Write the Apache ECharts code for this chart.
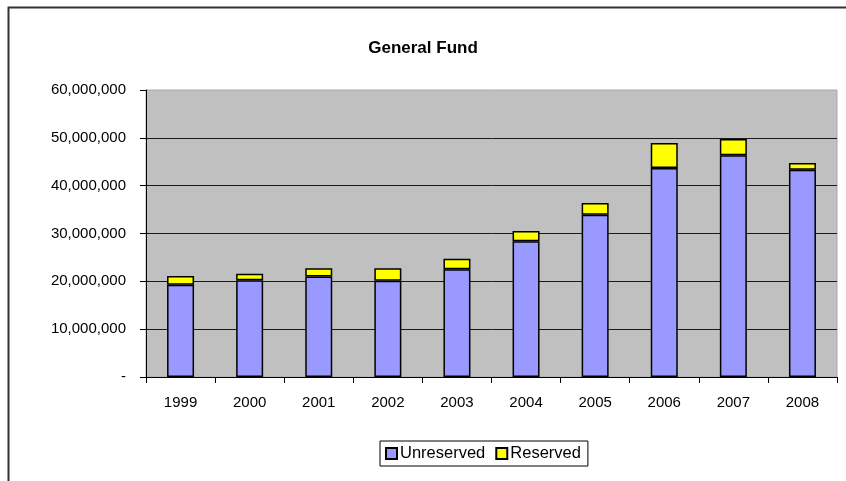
<!DOCTYPE html>
<html>
<head>
<meta charset="utf-8">
<script src="https://cdn.jsdelivr.net/npm/echarts@6/dist/echarts.min.js"></script>
<style>
html,body{margin:0;padding:0;background:#fff;}
#chart{width:846px;height:481px;}
</style>
</head>
<body>
<div id="chart"></div>
<script>
var years = ['1999','2000','2001','2002','2003','2004','2005','2006','2007','2008'];
var unreserved = [19300000, 20250000, 21000000, 20100000, 22550000, 28400000, 33900000, 43700000, 46350000, 43350000];
var reserved = [1800000, 1350000, 1750000, 2650000, 2150000, 2100000, 2500000, 5200000, 3400000, 1400000];
var yTicks = {min: 0, max: 60000000, interval: 10000000};

var FONT = '"Liberation Sans", Arial, sans-serif';
var chart = echarts.init(document.getElementById('chart'), null, {renderer: 'canvas'});
chart.setOption({
  animation: false,
  backgroundColor: '#fff',
  graphic: [{
    type: 'rect', left: 6, top: 5, z: 100,
    shape: {x: 0, y: 0, width: 1000, height: 1000},
    style: {fill: 'none', stroke: '#333', lineWidth: 2}
  }],
  title: {
    text: 'General Fund', left: 'center', top: 35,
    textStyle: {fontFamily: FONT, fontSize: 17, fontWeight: 'bold', color: '#000'}
  },
  legend: {
    left: 380, top: 441,
    padding: [4, 7, 4, 5],
    itemGap: 10, itemWidth: 11, itemHeight: 11,
    borderColor: '#000', borderWidth: 1, backgroundColor: '#fff',
    icon: 'rect',
    textStyle: {fontFamily: FONT, fontSize: 16.5, color: '#000', padding: [0, 0, 0, -2]},
    data: ['Unreserved', 'Reserved']
  },
  grid: {
    left: 146, right: 9, top: 90, bottom: 104,
    show: true, backgroundColor: '#C0C0C0', borderColor: '#a8a8a8', borderWidth: 1
  },
  xAxis: {
    type: 'category', data: years, boundaryGap: true,
    axisLine: {lineStyle: {color: '#000', width: 1}},
    axisTick: {show: true, length: 6, alignWithLabel: false, lineStyle: {color: '#000'}},
    axisLabel: {fontFamily: FONT, fontSize: 15, color: '#000', margin: 18}
  },
  yAxis: {
    type: 'value', min: yTicks.min, max: yTicks.max, interval: yTicks.interval,
    axisLine: {show: true, lineStyle: {color: '#000', width: 1}},
    axisTick: {show: true, length: 6, lineStyle: {color: '#000'}},
    splitLine: {show: true, showMaxLine: false, showMinLine: false, lineStyle: {color: '#1a1a1a', width: 1}},
    axisLabel: {
      fontFamily: FONT, fontSize: 15, color: '#000', margin: 20,
      formatter: function (v) { return v === 0 ? '-' : v.toLocaleString('en-US'); }
    }
  },
  series: [{
    name: 'Unreserved', type: 'bar', stack: 'fund', barWidth: 27,
    itemStyle: {color: '#9999FF', borderColor: '#000', borderWidth: 1.5},
    data: unreserved
  }, {
    name: 'Reserved', type: 'bar', stack: 'fund', barWidth: 27,
    itemStyle: {color: '#FFFF00', borderColor: '#000', borderWidth: 1.5},
    data: reserved
  }]
});
</script>
</body>
</html>
